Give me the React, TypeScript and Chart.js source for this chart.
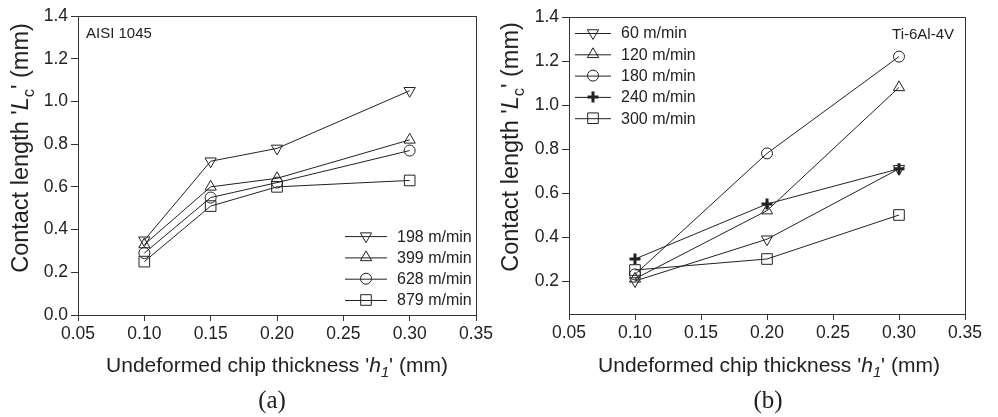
import React, { useEffect, useRef } from 'react';
import { Chart, registerables } from 'chart.js';
Chart.register(...registerables);

// ---------- data ----------
const xA = [0.10, 0.15, 0.20, 0.30];
const a198 = [0.35, 0.72, 0.78, 1.05];
const a399 = [0.33, 0.60, 0.64, 0.82];
const a628 = [0.29, 0.55, 0.62, 0.77];
const a879 = [0.25, 0.51, 0.60, 0.63];
const labelsA = ['198 m/min', '399 m/min', '628 m/min', '879 m/min'];

const xB = [0.10, 0.20, 0.30];
const b60 = [0.20, 0.39, 0.71];
const b120 = [0.21, 0.52, 1.08];
const b180 = [0.23, 0.78, 1.22];
const b240 = [0.30, 0.55, 0.71];
const b300 = [0.25, 0.30, 0.50];
const labelsB = ['60 m/min', '120 m/min', '180 m/min', '240 m/min', '300 m/min'];

const xTicks = [0.05, 0.10, 0.15, 0.20, 0.25, 0.30, 0.35];
const yTicksA = [0.0, 0.2, 0.4, 0.6, 0.8, 1.0, 1.2, 1.4];
const yTicksB = [0.2, 0.4, 0.6, 0.8, 1.0, 1.2, 1.4];

const INK = '#222';
const FONT = "'Liberation Sans', Arial, sans-serif";

type Mk = { style: string; rot: number; r: number; bw: number };
const MK_DOWN: Mk = { style: 'triangle', rot: 180, r: 6.5, bw: 1 };
const MK_UP: Mk = { style: 'triangle', rot: 0, r: 6.5, bw: 1 };
const MK_CIRC: Mk = { style: 'circle', rot: 0, r: 5.5, bw: 1 };
const MK_CROSS: Mk = { style: 'cross', rot: 0, r: 5.5, bw: 3 };
const MK_RECT: Mk = { style: 'rect', rot: 0, r: 7.5, bw: 1 };

function drawMarker(ctx: CanvasRenderingContext2D, m: Mk, x: number, y: number) {
  ctx.save();
  ctx.strokeStyle = INK;
  ctx.lineWidth = m.bw;
  ctx.beginPath();
  const r = m.r;
  if (m.style === 'triangle') {
    let rad = (m.rot * Math.PI) / 180;
    ctx.moveTo(x + Math.sin(rad) * r, y - Math.cos(rad) * r);
    rad += (2 * Math.PI) / 3;
    ctx.lineTo(x + Math.sin(rad) * r, y - Math.cos(rad) * r);
    rad += (2 * Math.PI) / 3;
    ctx.lineTo(x + Math.sin(rad) * r, y - Math.cos(rad) * r);
    ctx.closePath();
  } else if (m.style === 'circle') {
    ctx.arc(x, y, r, 0, Math.PI * 2);
  } else if (m.style === 'rect') {
    const s = r * Math.SQRT1_2;
    ctx.rect(x - s, y - s, 2 * s, 2 * s);
  } else if (m.style === 'cross') {
    ctx.moveTo(x - r, y);
    ctx.lineTo(x + r, y);
    ctx.moveTo(x, y - r);
    ctx.lineTo(x, y + r);
  }
  ctx.stroke();
  ctx.restore();
}

type Spec = {
  xs: number[];
  series: number[][];
  labels: string[];
  markers: Mk[];
  yMin: number;
  yTicks: number[];
  yAxisWidth: number;
  padRight: number;
  padTop: number;
  padBottom: number;
  note: string;
  noteAlign: 'left' | 'right';
  legendPos: 'br' | 'tl';
};

const framePlugin = {
  id: 'frame',
  afterDraw(chart: any) {
    const { ctx, chartArea: a } = chart;
    ctx.save();
    ctx.strokeStyle = '#333';
    ctx.lineWidth = 1;
    ctx.strokeRect(Math.round(a.left) + 0.5, Math.round(a.top) + 0.5, Math.round(a.right - a.left), Math.round(a.bottom - a.top));
    ctx.restore();
  },
};

const legendPlugin = {
  id: 'customLegend',
  afterDatasetsDraw(chart: any, _args: any, opts: any) {
    const { ctx, chartArea: a } = chart;
    const spec: Spec = opts.spec;
    ctx.save();
    ctx.font = `16px ${FONT}`;
    ctx.fillStyle = INK;
    ctx.textBaseline = 'middle';
    const n = spec.labels.length;
    const dy = 21.3;
    for (let i = 0; i < n; i++) {
      let x0: number, y: number;
      if (spec.legendPos === 'br') {
        x0 = a.right - 131;
        y = a.bottom - 15 - (n - 1 - i) * dy;
      } else {
        x0 = a.left + 6;
        y = a.top + 16 + i * dy;
      }
      const len = spec.legendPos === 'br' ? 42 : 36;
      ctx.strokeStyle = INK;
      ctx.lineWidth = 1;
      ctx.beginPath();
      ctx.moveTo(x0, y + 0.5);
      ctx.lineTo(x0 + len, y + 0.5);
      ctx.stroke();
      drawMarker(ctx, spec.markers[i], x0 + len / 2, y);
      ctx.textAlign = 'left';
      ctx.fillText(spec.labels[i], x0 + len + 10, y + 1);
    }
    // note
    ctx.font = `15px ${FONT}`;
    if (spec.noteAlign === 'left') {
      ctx.textAlign = 'left';
      ctx.fillText(spec.note, a.left + 8, a.top + 18);
    } else {
      ctx.textAlign = 'right';
      ctx.fillText(spec.note, a.right - 11, a.top + 18);
    }
    ctx.restore();
  },
};

function makeChart(canvas: HTMLCanvasElement, spec: Spec) {
  const datasets = spec.series.map((ys, i) => {
    const m = spec.markers[i];
    return {
      label: spec.labels[i],
      data: spec.xs.map((x, j) => ({ x, y: ys[j] })),
      showLine: true,
      borderColor: INK,
      borderWidth: 1,
      backgroundColor: 'rgba(0,0,0,0)',
      pointStyle: m.style,
      pointRotation: m.rot,
      pointRadius: m.r,
      pointBorderWidth: m.bw,
      pointBorderColor: INK,
      pointBackgroundColor: 'rgba(0,0,0,0)',
      fill: false,
      tension: 0,
    };
  });
  return new Chart(canvas, {
    type: 'scatter',
    data: { datasets },
    plugins: [framePlugin, legendPlugin],
    options: {
      animation: false,
      responsive: false,
      events: [],
      layout: { padding: { left: 0, right: spec.padRight, top: spec.padTop, bottom: spec.padBottom } },
      plugins: {
        legend: { display: false },
        tooltip: { enabled: false },
        customLegend: { spec },
      } as any,
      scales: {
        x: {
          type: 'linear',
          min: 0.05,
          max: 0.35,
          afterBuildTicks: (s: any) => { s.ticks = xTicks.map((v) => ({ value: v })); },
          afterFit: (s: any) => { s.height = 30; },
          grid: { display: true, drawOnChartArea: false, drawTicks: true, tickLength: 6, color: '#333' },
          border: { display: true, color: '#333' },
          ticks: {
            color: INK,
            font: { family: FONT, size: 17.5 },
            padding: 3,
            maxRotation: 0,
            callback: (v: any) => Number(v).toFixed(2),
          },
        },
        y: {
          type: 'linear',
          min: spec.yMin,
          max: 1.4,
          afterBuildTicks: (s: any) => { s.ticks = spec.yTicks.map((v) => ({ value: v })); },
          afterFit: (s: any) => { s.width = spec.yAxisWidth; },
          grid: { display: true, drawOnChartArea: false, drawTicks: true, tickLength: 7, color: '#333' },
          border: { display: true, color: '#333' },
          ticks: {
            color: INK,
            font: { family: FONT, size: 17.5 },
            padding: 3,
            callback: (v: any) => Number(v).toFixed(1),
          },
        },
      },
    } as any,
  });
}

const specA: Spec = {
  xs: xA,
  series: [a198, a399, a628, a879],
  labels: labelsA,
  markers: [MK_DOWN, MK_UP, MK_CIRC, MK_RECT],
  yMin: 0,
  yTicks: yTicksA,
  yAxisWidth: 78,
  padRight: 23,
  padTop: 16,
  padBottom: 72,
  note: 'AISI 1045',
  noteAlign: 'left',
  legendPos: 'br',
};

const specB: Spec = {
  xs: xB,
  series: [b60, b120, b180, b240, b300],
  labels: labelsB,
  markers: [MK_DOWN, MK_UP, MK_CIRC, MK_CROSS, MK_RECT],
  yMin: 0.05,
  yTicks: yTicksB,
  yAxisWidth: 70,
  padRight: 33,
  padTop: 17,
  padBottom: 73,
  note: 'Ti-6Al-4V',
  noteAlign: 'right',
  legendPos: 'tl',
};

function Panel({ spec, left }: { spec: Spec; left: number }) {
  const ref = useRef<HTMLCanvasElement>(null);
  useEffect(() => {
    if (!ref.current) return;
    const c = makeChart(ref.current, spec);
    return () => c.destroy();
  }, []);
  return (
    <canvas
      ref={ref}
      width={499}
      height={417}
      style={{ position: 'absolute', left, top: 0, width: 499, height: 417 }}
    />
  );
}

const titleStyle: React.CSSProperties = {
  position: 'absolute',
  fontFamily: FONT,
  lineHeight: '24px',
  color: INK,
  textAlign: 'center',
  whiteSpace: 'nowrap',
};

function XTitle({ cx }: { cx: number }) {
  return (
    <div style={{ ...titleStyle, fontSize: 21, left: cx - 250, width: 500, top: 353 }}>
      Undeformed chip thickness '<i>h</i>
      <sub style={{ fontSize: '0.7em', verticalAlign: '-0.35em', lineHeight: 0 }}><i>1</i></sub>' (mm)
    </div>
  );
}

function YTitle({ cx, cy }: { cx: number; cy: number }) {
  return (
    <div
      style={{
        ...titleStyle,
        fontSize: 23.5,
        left: cx - 170,
        width: 340,
        top: cy - 12,
        height: 24,
        transform: 'rotate(-90deg)',
        transformOrigin: '50% 50%',
      }}
    >
      Contact length '<i>L</i>
      <sub style={{ fontSize: '0.7em', verticalAlign: '-0.35em', lineHeight: 0 }}>c</sub>' (mm)
    </div>
  );
}

function PanelLabel({ cx, text }: { cx: number; text: string }) {
  return (
    <div
      style={{
        position: 'absolute',
        left: cx - 40,
        width: 80,
        top: 385,
        textAlign: 'center',
        fontFamily: "'Liberation Serif', 'Times New Roman', serif",
        fontSize: 25,
        lineHeight: '30px',
        color: INK,
      }}
    >
      {text}
    </div>
  );
}

export default function App() {
  return (
    <div style={{ position: 'absolute', left: 0, top: 0, width: 998, height: 417, background: '#fff', overflow: 'hidden' }}>
      <Panel spec={specA} left={0} />
      <Panel spec={specB} left={499} />
      <XTitle cx={277} />
      <XTitle cx={769} />
      <YTitle cx={20} cy={148} />
      <YTitle cx={510} cy={147} />
      <PanelLabel cx={272} text="(a)" />
      <PanelLabel cx={768} text="(b)" />
    </div>
  );
}
